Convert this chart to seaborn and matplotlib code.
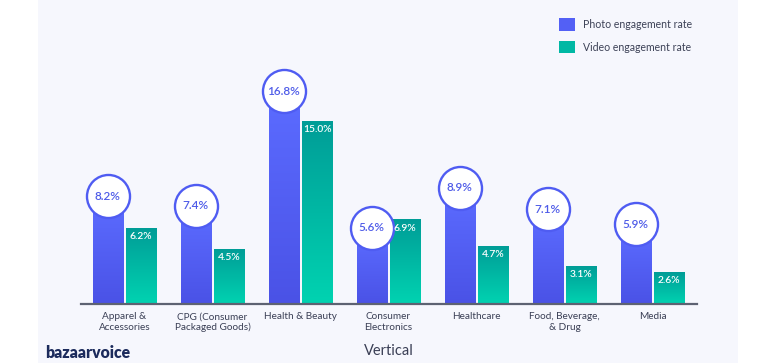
import numpy as np
import pandas as pd
import seaborn as sb
import matplotlib.pyplot as plt
from matplotlib.patches import Patch, Rectangle
from matplotlib.colors import LinearSegmentedColormap

# Data

verticals = [
    "Apparel &\nAccessories",
    "CPG (Consumer\nPackaged Goods)",
    "Health & Beauty",
    "Consumer\nElectronics",
    "Healthcare",
    "Food, Beverage,\n& Drug",
    "Media",
]
photo_rate = [8.2, 7.4, 16.8, 5.6, 8.9, 7.1, 5.9]
video_rate = [6.2, 4.5, 15.0, 6.9, 4.7, 3.1, 2.6]
series = ["Photo engagement rate", "Video engagement rate"]

data = pd.DataFrame({
    "vertical": verticals * 2,
    "rate": photo_rate + video_rate,
    "series": [series[0]] * len(verticals) + [series[1]] * len(verticals),
})

photo_cmap = LinearSegmentedColormap.from_list("photo", ["#4a52e6", "#5b6bff"])
video_cmap = LinearSegmentedColormap.from_list("video", ["#00d3b1", "#009d97"])
palette = {series[0]: "#5360f5", series[1]: "#00b8a4"}

sb.set_style("white")
plt.rcParams["font.family"] = ["Lato", "DejaVu Sans"]

fig = plt.figure(figsize = (7.68, 3.63), dpi = 100)
fig.patch.set_facecolor("white")
fig.patches.append(Rectangle((38 / 768, 0), 700 / 768, 1, transform = fig.transFigure,
                             facecolor = "#f6f7fd", edgecolor = "none", zorder = -10))

ax = fig.add_axes([80.5 / 768, 59 / 363, 616 / 768, 300 / 363])
ax.set_facecolor("none")

sb.barplot(data = data, x = "vertical", y = "rate", hue = "series", palette = palette,
           width = 0.76, gap = 0.1, linewidth = 0, legend = False, ax = ax)

xlim = ax.get_xlim()
ylim = (0, 24.6)

# gradient fill on each bar
grad = np.linspace(0, 1, 256).reshape(-1, 1)
for container, cmap in zip(ax.containers, [photo_cmap, video_cmap]):
    for rect in container:
        x0, w, h = rect.get_x(), rect.get_width(), rect.get_height()
        ax.imshow(grad, extent = [x0, x0 + w, 0, h], origin = "lower", aspect = "auto",
                  cmap = cmap, zorder = 2)
        rect.set_visible(False)

# photo labels inside circles
photo_bars = ax.containers[0]
cx = [r.get_x() + r.get_width() / 2 for r in photo_bars]
cy = [r.get_height() + 0.65 for r in photo_bars]
ax.scatter(cx, cy, s = 960, facecolor = "white", edgecolor = "#4f5cf2", linewidth = 1.7, zorder = 4)
for x, y, v in zip(cx, cy, photo_rate):
    ax.text(x, y, f"{v:.1f}%", ha = "center", va = "center", fontsize = 8.5,
            color = "#4f5ce8", fontweight = "semibold", zorder = 5)

# video labels at the top of the bars
for rect, v in zip(ax.containers[1], video_rate):
    ax.text(rect.get_x() + rect.get_width() / 2, rect.get_height() - 0.3, f"{v:.1f}%",
            ha = "center", va = "top", fontsize = 7.4, color = "white", fontweight = "semibold", zorder = 5)

ax.set_xlim(xlim)
ax.set_ylim(ylim)
ax.set_yticks([])
ax.set_ylabel("")
ax.set_xlabel("Vertical", fontsize = 10.5, color = "#3a3f55", labelpad = 8)
ax.tick_params(axis = "x", length = 0, pad = 6, labelsize = 7.2, labelcolor = "#3a3f55")
for s in ["top", "left", "right"]:
    ax.spines[s].set_visible(False)
ax.spines["bottom"].set_color("#5d6272")
ax.spines["bottom"].set_linewidth(1.6)
ax.spines["bottom"].set_zorder(6)

handles = [Patch(facecolor = palette[s], edgecolor = "none") for s in series]
fig.legend(handles, series, loc = "upper left", bbox_to_anchor = (554 / 768, 1 - 13 / 363),
           frameon = False, fontsize = 7.6, handlelength = 1.45, handleheight = 1.45,
           handletextpad = 0.8, labelspacing = 0.95, borderpad = 0, labelcolor = "#3d4257")

fig.text(45 / 768, 10 / 363, "bazaarvoice", fontsize = 11.3, fontweight = "heavy",
         color = "#1c2b5c", ha = "left", va = "center")

fig.savefig("out.png", dpi = 100)
